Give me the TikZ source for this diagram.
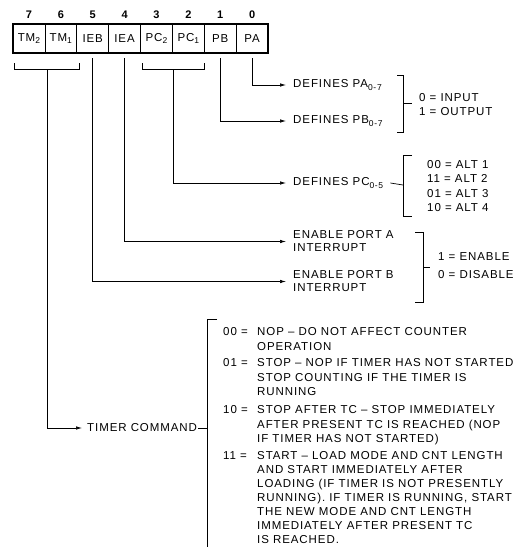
\documentclass[tikz,border=0pt]{standalone}
\usepackage{fontspec}
\setmainfont{Liberation Sans}[LetterSpace=8]
\usetikzlibrary{arrows.meta}
\newcommand\sbs[1]{\raisebox{-0.45ex}{\fontsize{8.5}{8.5}\selectfont #1}}
\begin{document}
\begin{tikzpicture}[x=1pt,y=-1pt,
  every node/.style={inner sep=0pt},
  lbl/.style={anchor=west, align=left, font=\fontsize{11.5}{13}\selectfont},
  para/.style={anchor=north west, align=left, font=\fontsize{11.5}{14.2}\selectfont},
  code/.style={anchor=north west, font=\fontsize{11.5}{14.2}\selectfont},
  cell/.style={draw, line width=0.6pt, minimum width=31.875pt, minimum height=29pt, font=\fontsize{11.5}{13}\selectfont},
  bitno/.style={font=\bfseries\fontsize{11}{12}\selectfont},
  wire/.style={line width=0.7pt},
  arr/.style={wire, -{Latex[length=6pt,width=3.5pt]}, shorten >=7pt},
  brk/.style={line width=0.7pt}]
\useasboundingbox (0,0) rectangle (527,547);

% register
\foreach \i/\t [count=\k from 0] in {7/TM\sbs{2},6/TM\sbs{1},5/IEB,4/IEA,3/PC\sbs{2},2/PC\sbs{1},1/PB,0/PA} {
  \node[cell] (c\i) at ({28.94+31.875*\k},38.5) {\t};
  \node[bitno] (n\i) at ({28.94+31.875*\k},15) {\i};
}
\draw[line width=1.8pt] (c7.north west) rectangle (c0.south east);

% labels
\node[lbl] (pa) at (293,85) {DEFINES PA\sbs{0-7}};
\node[lbl] (pb) at (293,121) {DEFINES PB\sbs{0-7}};
\node[lbl] (pc) at (293,183) {DEFINES PC\sbs{0-5}};
\node[lbl] (ena) at (293,241.5) {ENABLE PORT A\\INTERRUPT};
\node[lbl] (enb) at (293,281.5) {ENABLE PORT B\\INTERRUPT};
\node[lbl] (timer) at (87,428) {TIMER COMMAND};

\node[lbl, font=\fontsize{11.5}{14}\selectfont] (io) at (419,105) {0 = INPUT\\1 = OUTPUT};
\node[lbl, font=\fontsize{11.5}{14.1}\selectfont] (alt) at (427,186) {00 = ALT 1\\11 = ALT 2\\01 = ALT 3\\10 = ALT 4};
\node[lbl, font=\fontsize{11.5}{14}\selectfont] (en) at (438,266) {1 = ENABLE\\[4pt]0 = DISABLE};

% bit connectors
\draw[arr] ([yshift=-5pt]c0.south) |- (pa.west);
\draw[arr] ([yshift=-5pt]c1.south) |- (pb.west);
\draw[arr] ([yshift=-5pt]c4.south) |- (ena.west);
\draw[arr] ([yshift=-5pt]c5.south) |- (enb.west);

% TM bracket
\coordinate (tmA) at ([xshift=2pt,yshift=-10pt]c7.south west);
\coordinate (tmB) at ([xshift=2pt,yshift=-10pt]c6.south east);
\draw[brk] (tmA) -- ++(0,6) -| (tmB);
\coordinate (tmM) at (47,69);
\draw[arr, shorten >=5pt] (tmM) |- (timer.west);

% PC bracket
\coordinate (pcA) at ([xshift=2.5pt,yshift=-10pt]c3.south west);
\coordinate (pcB) at ([yshift=-10pt]c2.south east);
\draw[brk] (pcA) -- ++(0,6) -| (pcB);
\coordinate (pcM) at (173.5,69);
\draw[arr] (pcM) |- (pc.west);

% right brackets
\draw[brk] (397,75) -- (403,75) -- (403,132) -- (397,132);
\coordinate (ioS) at (412,103.5);
\draw[brk] (403,103.5) -- (ioS);

\coordinate (pcS) at (403,185);
\draw[brk] ([xshift=7pt]pc.east) -- (pcS);
\draw[brk] (412,155) -- (403,155) -- (403,216) -- (412,216);

\draw[brk] (415,232) -- (423,232) -- (423,302) -- (415,302);
\coordinate (enS) at (430,267);
\draw[brk] (423,267) -- (enS);

% timer bracket
\coordinate (tmS) at (207,428);
\draw[brk] ([xshift=1pt]timer.east) -- (tmS);
\draw[brk] (217,319) -- (207,319) -- (207,547);

% timer items
\node[code] (k00) at (223,327.7) {00 =};
\node[para] (t00) at (257,327.7) {NOP -- DO NOT AFFECT COUNTER\\OPERATION};
\node[code] (k01) at (223,358.7) {01 =};
\node[para] (t01) at (257,358.7) {STOP -- NOP IF TIMER HAS NOT STARTED\\STOP COUNTING IF THE TIMER IS\\RUNNING};
\node[code] (k10) at (223,405.7) {10 =};
\node[para] (t10) at (257,405.7) {STOP AFTER TC -- STOP IMMEDIATELY\\AFTER PRESENT TC IS REACHED (NOP\\IF TIMER HAS NOT STARTED)};
\node[code] (k11) at (223,451.7) {11 =};
\node[para, font=\fontsize{11.5}{14}\selectfont] (t11) at (257,451.7) {START -- LOAD MODE AND CNT LENGTH\\AND START IMMEDIATELY AFTER\\LOADING (IF TIMER IS NOT PRESENTLY\\RUNNING). IF TIMER IS RUNNING, START\\THE NEW MODE AND CNT LENGTH\\IMMEDIATELY AFTER PRESENT TC\\IS REACHED.};
\end{tikzpicture}
\end{document}
